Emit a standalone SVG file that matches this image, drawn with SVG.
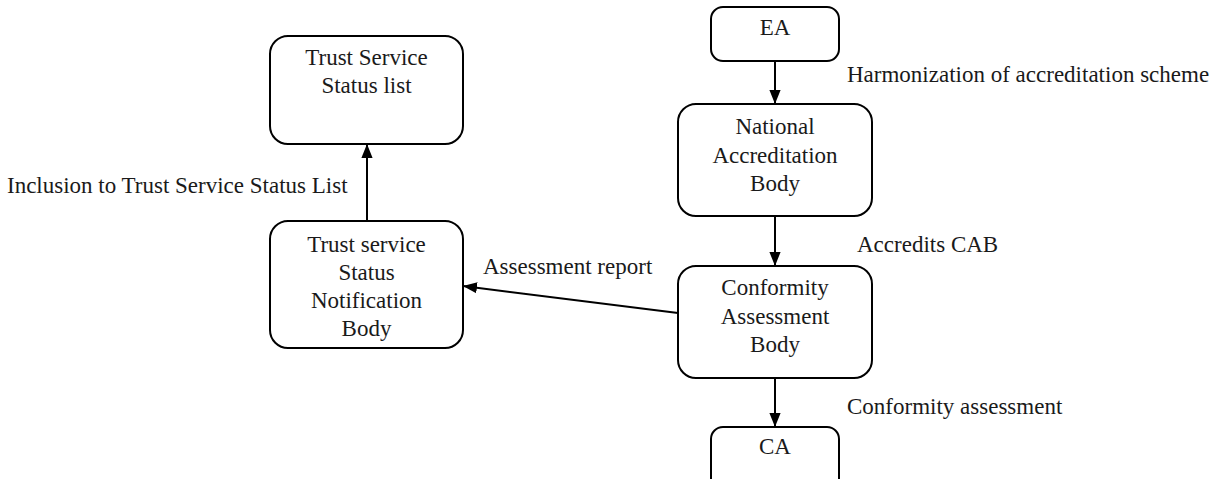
<svg xmlns="http://www.w3.org/2000/svg" width="1228" height="479" viewBox="0 0 1228 479">
<style>
.box{fill:#fff;stroke:#000;stroke-width:2}
.t{font-family:"Liberation Serif","Times New Roman",serif;font-size:23px;fill:#1a1a1a}
.c{text-anchor:middle}
.ln{stroke:#000;stroke-width:2;fill:none}
</style>
<defs>
<marker id="ahb" viewBox="0 0 10 10" refX="10" refY="5" markerWidth="14" markerHeight="14" orient="auto" markerUnits="userSpaceOnUse">
<path d="M0,1 L10,5 L0,9 z" fill="#000"/>
</marker>
</defs>
<rect width="1228" height="479" fill="#fff"/>
<g id="connectors">
<line class="ln" x1="775" y1="61" x2="775" y2="104" marker-end="url(#ahb)"/>
<line class="ln" x1="775" y1="216" x2="775" y2="266" marker-end="url(#ahb)"/>
<line class="ln" x1="775" y1="378" x2="775" y2="427" marker-end="url(#ahb)"/>
<line class="ln" x1="678" y1="313" x2="463" y2="286" marker-end="url(#ahb)"/>
<line class="ln" x1="367" y1="221" x2="367" y2="144" marker-end="url(#ahb)"/>
<text class="t" x="847" y="82">Harmonization of accreditation scheme</text>
<text class="t" x="857" y="252">Accredits CAB</text>
<text class="t" x="847" y="414">Conformity assessment</text>
<text class="t" x="483" y="274">Assessment report</text>
<text class="t" x="7" y="193">Inclusion to Trust Service Status List</text>
</g>
<g id="tssl">
<rect class="box" x="270" y="36" width="193" height="108" rx="18"/>
<text class="t c" x="366.5" y="65">Trust Service</text>
<text class="t c" x="366.5" y="93">Status list</text>
</g>
<g id="ea">
<rect class="box" x="711" y="7" width="128" height="54" rx="12"/>
<text class="t c" x="775" y="35">EA</text>
</g>
<g id="nab">
<rect class="box" x="678" y="104" width="194" height="112" rx="18"/>
<text class="t c" x="775" y="134">National</text>
<text class="t c" x="775" y="163">Accreditation</text>
<text class="t c" x="775" y="191">Body</text>
</g>
<g id="tssnb">
<rect class="box" x="270" y="221" width="193" height="127" rx="18"/>
<text class="t c" x="366.5" y="252">Trust service</text>
<text class="t c" x="366.5" y="280">Status</text>
<text class="t c" x="366.5" y="308">Notification</text>
<text class="t c" x="366.5" y="336">Body</text>
</g>
<g id="cab">
<rect class="box" x="678" y="266" width="194" height="112" rx="18"/>
<text class="t c" x="775" y="295">Conformity</text>
<text class="t c" x="775" y="324">Assessment</text>
<text class="t c" x="775" y="352">Body</text>
</g>
<g id="ca">
<rect class="box" x="711" y="427" width="128" height="70" rx="12"/>
<text class="t c" x="775" y="454">CA</text>
</g>
</svg>
